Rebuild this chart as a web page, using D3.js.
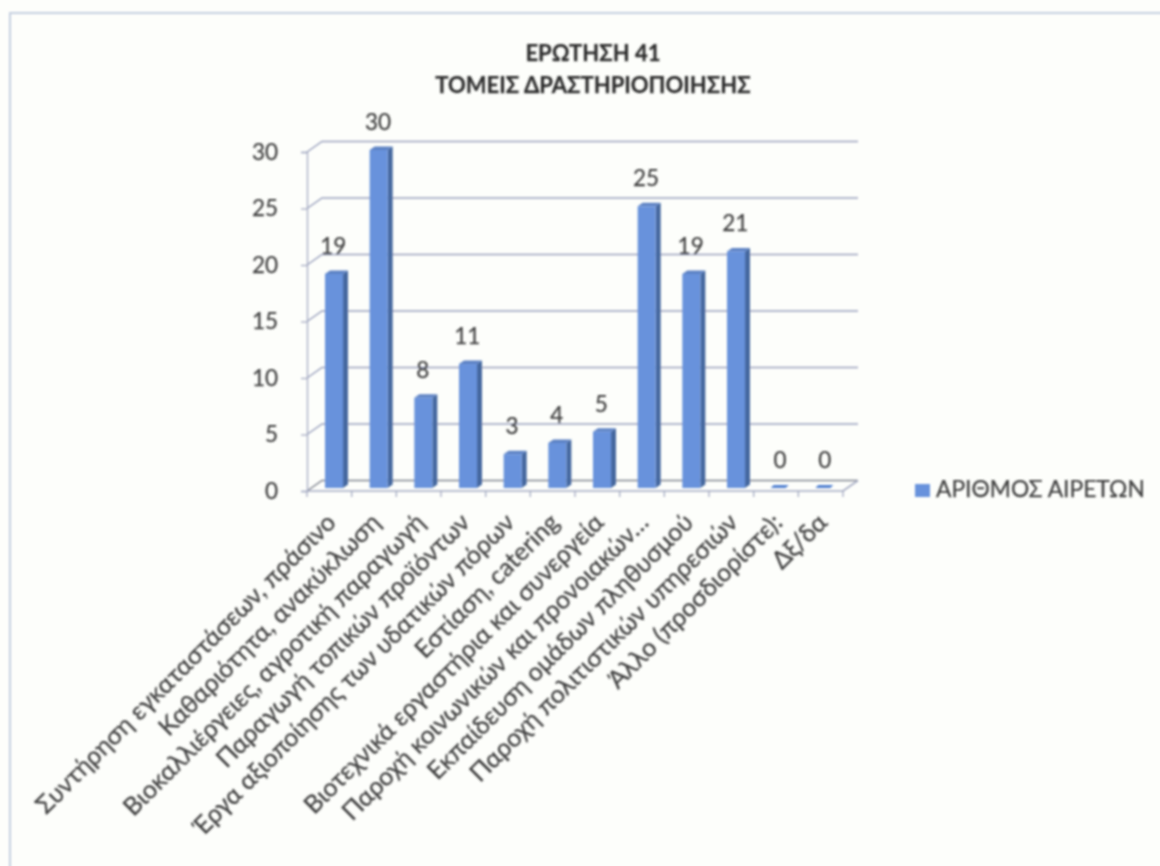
<!DOCTYPE html>
<html><head><meta charset="utf-8">
<script src="https://cdn.jsdelivr.net/npm/d3@7/dist/d3.min.js"></script>
<style>html,body{margin:0;padding:0;background:#fdfefb;overflow:hidden}svg{display:block}text{font-family:"Lato","Open Sans",sans-serif;stroke:#3f3f3f;stroke-width:.25px}</style>
</head><body><svg id="c" width="1160" height="866"></svg>
<script>
const categories=["Συντήρηση εγκαταστάσεων, πράσινο","Καθαριότητα, ανακύκλωση","Βιοκαλλιέργειες, αγροτική παραγωγή","Παραγωγή τοπικών προϊόντων","Έργα αξιοποίησης των υδατικών πόρων","Εστίαση, catering","Βιοτεχνικά εργαστήρια και συνεργεία","Παροχή κοινωνικών και προνοιακών…","Εκπαίδευση ομάδων πληθυσμού","Παροχή πολιτιστικών υπηρεσιών","Άλλο (προσδιορίστε):","Δξ/δα"];
const values=[19,30,8,11,3,4,5,25,19,21,0,0];
const yTicks=[0,5,10,15,20,25,30];
const titleLines=["ΕΡΩΤΗΣΗ 41","ΤΟΜΕΙΣ ΔΡΑΣΤΗΡΙΟΠΟΙΗΣΗΣ"];
const seriesName="ΑΡΙΘΜΟΣ ΑΙΡΕΤΩΝ";

const W=1160,H=866;
const svg=d3.select("#c");
const defs=svg.append("defs");
defs.append("filter").attr("id","scan").attr("filterUnits","userSpaceOnUse").attr("x",0).attr("y",0).attr("width",W).attr("height",H)
  .append("feGaussianBlur").attr("stdDeviation",0.8);
const g=svg.append("g").attr("filter","url(#scan)");

const depthX=15,depthY=-10.5;
const x=d3.scaleBand().domain(categories).range([307,843]).paddingInner(0).paddingOuter(0);
const y=d3.scaleLinear().domain([0,30]).range([491,152]);
const barY=d3.scaleLinear().domain([0,30]).range([488,150]);
const gridCol="#9aa1bd",axisCol="#a4aac2",txt="#3f3f3f";

// page frame
g.append("path").attr("d",`M10,${H+5}V13H${W+5}`).attr("fill","none").attr("stroke","#c5cfe0").attr("stroke-width",2);

// gridlines: side wall and back wall
const grid=g.append("g");
grid.selectAll("path").data(yTicks).join("path")
  .attr("d",d=>`M${x.range()[0]},${y(d)}l${depthX},${depthY}H${x.range()[1]+depthX}`)
  .attr("fill","none").attr("stroke",d=>d===0?"#7f838f":gridCol).attr("stroke-width",1.5);

// floor front and right edges
g.append("path").attr("d",`M${x.range()[0]},${y(0)}H${x.range()[1]}l${depthX},${depthY}`)
  .attr("fill","none").attr("stroke",axisCol).attr("stroke-width",1.6);

// y axis
const yAxis=d3.axisLeft(y).tickValues(yTicks).tickSize(6).tickPadding(23);
const ya=g.append("g").attr("transform",`translate(${x.range()[0]},0)`).call(yAxis);
ya.selectAll("path,line").attr("stroke",axisCol).attr("stroke-width",1.3);
ya.selectAll("text").attr("font-size",22.5).attr("fill",txt);

// x axis ticks
const xa=g.append("g").attr("transform",`translate(0,${y(0)})`);
const step=x.step();
const xTicks=d3.range(categories.length+1).map(i=>x.range()[0]+i*step);
xa.selectAll("line").data(xTicks).join("line").attr("x1",d=>d).attr("x2",d=>d).attr("y1",0).attr("y2",6)
  .attr("stroke",axisCol).attr("stroke-width",1.3);

// bars
const barW=18,sideW=5,sideH=3.5;
const bars=g.append("g").selectAll("g").data(categories).join("g");
bars.each(function(c,i){
  const v=values[i],b=d3.select(this),x0=x(c)+18,t=barY(v),base=barY(0);
  if(v===0){
    b.append("path").attr("d",`M${x0-1},${base+0}l3,-3h${barW-3}l-3,3z`).attr("fill","#4f7fd0");
    return;
  }
  b.append("path").attr("d",`M${x0+barW},${t}l${sideW},${-sideH}V${base-sideH}l${-sideW},${sideH}z`).attr("fill","#44689f");
  b.append("path").attr("d",`M${x0},${t}l${sideW},${-sideH}h${barW}l${-sideW},${sideH}z`).attr("fill","#5d82c4");
  b.append("rect").attr("x",x0).attr("y",t).attr("width",barW).attr("height",base-t).attr("fill","#6792dc");
});

// value labels
g.append("g").selectAll("text").data(categories).join("text")
  .attr("x",c=>x(c)+x.bandwidth()/2+4)
  .attr("y",(c,i)=>barY(values[i])-20)
  .attr("text-anchor","middle").attr("font-size",22.5).attr("fill",txt)
  .text((c,i)=>values[i]);

// category labels
g.append("g").selectAll("text").data(categories).join("text")
  .attr("text-anchor","end").attr("font-size",25).attr("fill",txt)
  .attr("transform",c=>`translate(${x(c)+x.bandwidth()/2+8},${524}) rotate(-45)`)
  .text(c=>c);

// title
g.append("g").selectAll("text").data(titleLines).join("text")
  .attr("x",593).attr("y",(d,i)=>61+i*32).attr("text-anchor","middle")
  .attr("font-size",22).attr("font-weight",700).attr("fill","#2f2f2f").style("stroke","#2f2f2f").text(d=>d);

// legend
g.append("rect").attr("x",915).attr("y",484).attr("width",15).attr("height",13).attr("fill","#6792dc");
g.append("text").attr("x",936).attr("y",497).attr("font-size",22.8).attr("fill",txt).text(seriesName);
</script></body></html>
